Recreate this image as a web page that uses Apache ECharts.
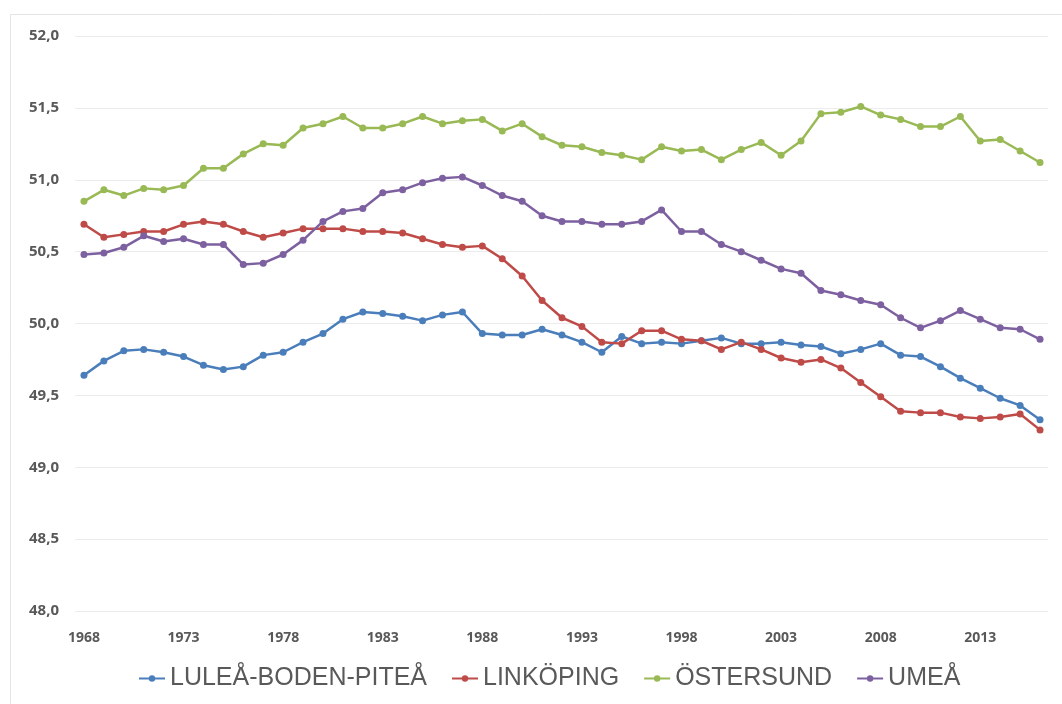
<!DOCTYPE html>
<html>
<head>
<meta charset="utf-8">
<script src="https://cdn.jsdelivr.net/npm/echarts@6/dist/echarts.min.js"></script>
<style>
  html, body { margin: 0; padding: 0; background: #fff; }
  #chart { width: 1062px; height: 704px; }
</style>
</head>
<body>
<div id="chart"></div>
<script>
// år 1968-2016
var years = [];
for (var y = 1968; y <= 2016; y++) years.push(y);

var yearTicks = [1968, 1973, 1978, 1983, 1988, 1993, 1998, 2003, 2008, 2013];
var valueTicks = [48.0, 48.5, 49.0, 49.5, 50.0, 50.5, 51.0, 51.5, 52.0];

var seriesNames = ['LULEÅ-BODEN-PITEÅ', 'LINKÖPING', 'ÖSTERSUND', 'UMEÅ'];

var lulea = [49.64, 49.74, 49.81, 49.82, 49.80, 49.77, 49.71, 49.68, 49.70, 49.78,
  49.80, 49.87, 49.93, 50.03, 50.08, 50.07, 50.05, 50.02, 50.06, 50.08,
  49.93, 49.92, 49.92, 49.96, 49.92, 49.87, 49.80, 49.91, 49.86, 49.87,
  49.86, 49.88, 49.90, 49.86, 49.86, 49.87, 49.85, 49.84, 49.79, 49.82,
  49.86, 49.78, 49.77, 49.70, 49.62, 49.55, 49.48, 49.43, 49.33];

var linkoping = [50.69, 50.60, 50.62, 50.64, 50.64, 50.69, 50.71, 50.69, 50.64, 50.60,
  50.63, 50.66, 50.66, 50.66, 50.64, 50.64, 50.63, 50.59, 50.55, 50.53,
  50.54, 50.45, 50.33, 50.16, 50.04, 49.98, 49.87, 49.86, 49.95, 49.95,
  49.89, 49.88, 49.82, 49.87, 49.82, 49.76, 49.73, 49.75, 49.69, 49.59,
  49.49, 49.39, 49.38, 49.38, 49.35, 49.34, 49.35, 49.37, 49.26];

var ostersund = [50.85, 50.93, 50.89, 50.94, 50.93, 50.96, 51.08, 51.08, 51.18, 51.25,
  51.24, 51.36, 51.39, 51.44, 51.36, 51.36, 51.39, 51.44, 51.39, 51.41,
  51.42, 51.34, 51.39, 51.30, 51.24, 51.23, 51.19, 51.17, 51.14, 51.23,
  51.20, 51.21, 51.14, 51.21, 51.26, 51.17, 51.27, 51.46, 51.47, 51.51,
  51.45, 51.42, 51.37, 51.37, 51.44, 51.27, 51.28, 51.20, 51.12];

var umea = [50.48, 50.49, 50.53, 50.61, 50.57, 50.59, 50.55, 50.55, 50.41, 50.42,
  50.48, 50.58, 50.71, 50.78, 50.80, 50.91, 50.93, 50.98, 51.01, 51.02,
  50.96, 50.89, 50.85, 50.75, 50.71, 50.71, 50.69, 50.69, 50.71, 50.79,
  50.64, 50.64, 50.55, 50.50, 50.44, 50.38, 50.35, 50.23, 50.20, 50.16,
  50.13, 50.04, 49.97, 50.02, 50.09, 50.03, 49.97, 49.96, 49.89];

var colors = ['#4a7ebb', '#be4b48', '#98b954', '#7d60a0'];

function pairs(vals) {
  var out = [];
  for (var i = 0; i < years.length; i++) out.push([years[i], vals[i]]);
  return out;
}

function makeSeries(name, vals, color) {
  return {
    name: name,
    type: 'line',
    data: pairs(vals),
    symbol: 'circle',
    symbolSize: 7,
    itemStyle: { color: color },
    lineStyle: { color: color, width: 2.5 },
    emphasis: { disabled: true },
    animation: false
  };
}

var chart = echarts.init(document.getElementById('chart'), null, { renderer: 'canvas' });

chart.setOption({
  backgroundColor: '#fff',
  graphic: [{
    type: 'rect',
    shape: { x: 10.5, y: 14.5, width: 1100, height: 720 },
    style: { fill: 'none', stroke: '#e4e4e4', lineWidth: 1 },
    silent: true
  }],
  grid: { left: 75, right: 14, top: 36, bottom: 93 },
  legend: {
    bottom: 8,
    left: 133,
    itemWidth: 26,
    itemHeight: 8,
    itemGap: 24,
    textStyle: {
      fontFamily: '"Liberation Sans", sans-serif',
      fontSize: 25,
      color: '#595959'
    },
    data: seriesNames
  },
  xAxis: {
    type: 'value',
    min: 1967.55,
    max: 2016.4,
    axisLine: { show: false },
    axisTick: { show: false },
    splitLine: { show: false },
    axisLabel: {
      customValues: yearTicks,
      margin: 20,
      fontFamily: '"Open Sans", sans-serif',
      fontWeight: 'bold',
      fontSize: 14,
      color: '#595959',
      formatter: function (v) { return String(v); }
    }
  },
  yAxis: {
    type: 'value',
    min: 48,
    max: 52,
    interval: 0.5,
    axisLine: { show: false },
    axisTick: { show: false },
    splitLine: { lineStyle: { color: '#ececec', width: 1 } },
    axisLabel: {
      margin: 16,
      fontFamily: '"Open Sans", sans-serif',
      fontWeight: 'bold',
      fontSize: 15,
      color: '#595959',
      formatter: function (v) { return v.toFixed(1).replace('.', ','); }
    }
  },
  series: [
    makeSeries(seriesNames[0], lulea, colors[0]),
    makeSeries(seriesNames[1], linkoping, colors[1]),
    makeSeries(seriesNames[2], ostersund, colors[2]),
    makeSeries(seriesNames[3], umea, colors[3])
  ]
});
</script>
</body>
</html>
